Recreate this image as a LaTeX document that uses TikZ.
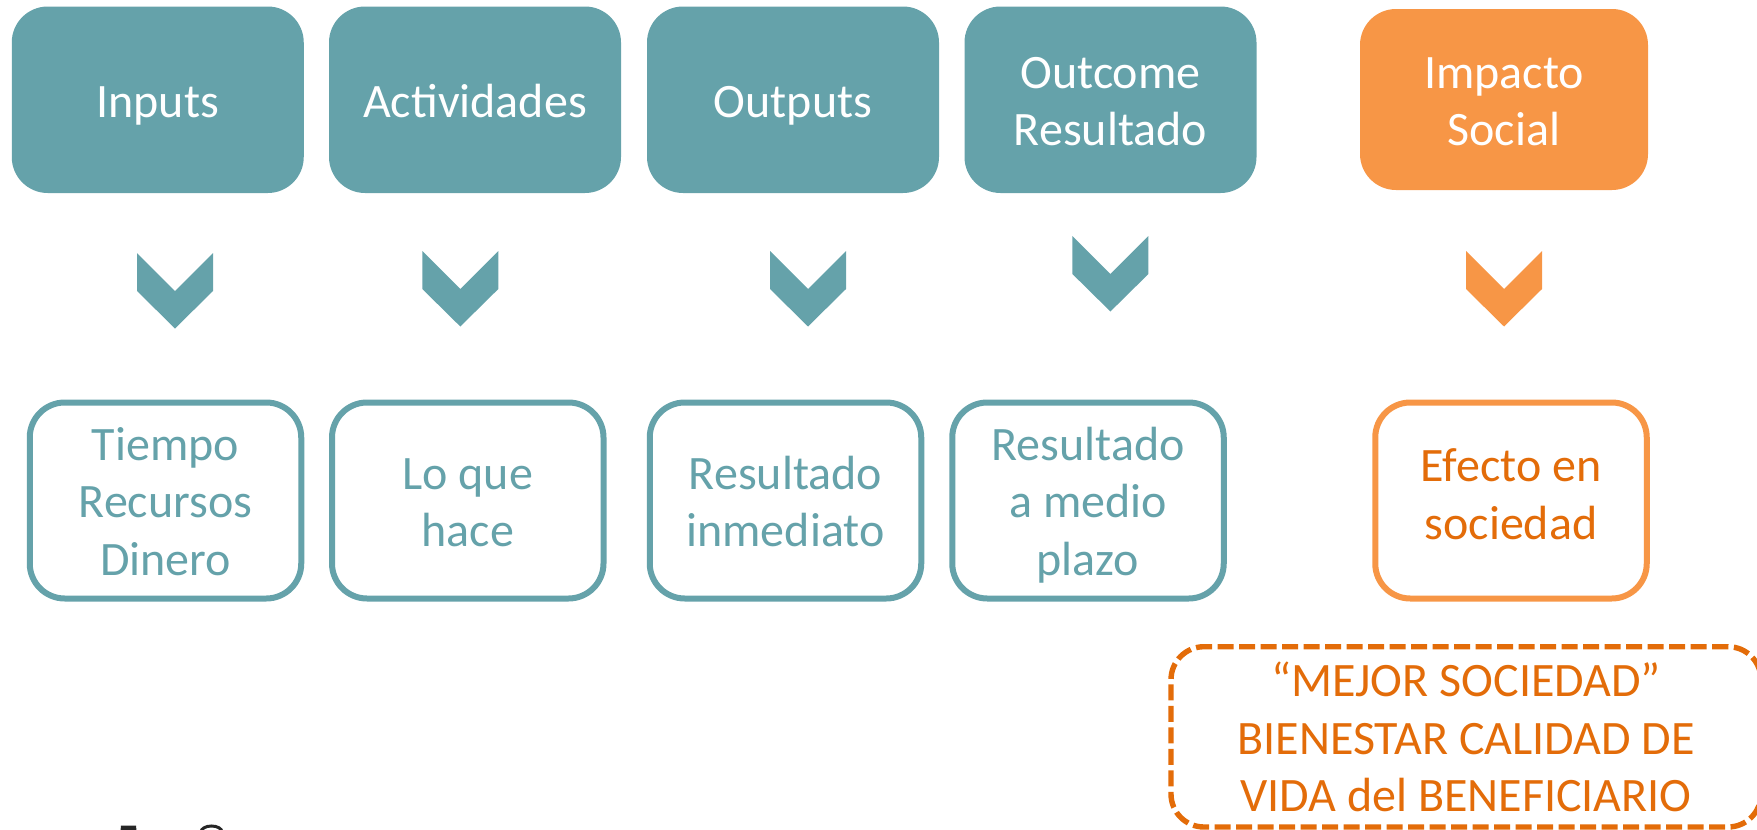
\documentclass[tikz,border=0pt]{standalone}
\usepackage{fontspec}
\setmainfont{Carlito}
\definecolor{teal0}{HTML}{65A2AA}
\definecolor{orangefill}{HTML}{F79646}
\definecolor{orangetext}{HTML}{E36C09}
\newcommand{\ls}{\vrule height23pt depth5.65pt width0pt }
\newcommand{\lsdeep}{\vrule height23pt depth12.95pt width0pt }
\newcommand{\chevmark}[3]{% centre x, top y, colour
  \fill[#3] (#1-38,#2) -- (#1,#2+38) -- (#1+38,#2) -- (#1+38,#2+38) -- (#1,#2+75.5) -- (#1-38,#2+38) -- cycle;}
\tikzset{
  labeltext/.style={font=\fontsize{24}{28.65}\selectfont, align=center, inner sep=0pt},
  solidbox/.style={labeltext, rectangle, rounded corners=18pt, text=white, minimum width=146pt, minimum height=93.25pt},
  tealbox/.style={solidbox, fill=teal0},
  orangebox/.style={solidbox, fill=orangefill, minimum width=144pt, minimum height=90.5pt},
  linebox/.style={labeltext, rectangle, rounded corners=17.5pt, line width=3pt, fill=white, minimum width=135.75pt, minimum height=98pt},
  teallinebox/.style={linebox, draw=teal0, text=teal0},
  orangelinebox/.style={linebox, draw=orangefill, text=orangetext},
  dashbox/.style={labeltext, rectangle, rounded corners=16.5pt, line width=2.7pt, draw=orangetext, text=orangetext,
    dash pattern=on 8pt off 2.75pt, minimum width=295pt, minimum height=90.15pt},
}
\begin{document}
\begin{tikzpicture}[x=0.5pt,y=-0.5pt]
\clip (0,0) rectangle (1757,830);
\useasboundingbox (0,0) rectangle (1757,830);
% top row
\node[tealbox] (inputs) at (157.75,99.75) {\ls Inputs};
\node[tealbox] (actividades) at (475,99.75) {\ls Actividades};
\node[tealbox] (outputs) at (793,99.75) {\ls Outputs};
\node[tealbox] (outcome) at (1110.5,99.75) {\ls Outcome\\\ls Resultado};
\node[orangebox] (impacto) at (1504,99.5) {\ls Impacto\\\ls Social};
% chevrons
\chevmark{175}{253}{teal0}
\chevmark{460.3}{251}{teal0}
\chevmark{808}{251}{teal0}
\chevmark{1110.4}{236}{teal0}
\chevmark{1504}{251}{orangefill}
% lower row
\node[teallinebox] (tiempo) at (165.5,500.5) {\ls Tiempo\\\ls Recursos\\\ls Dinero};
\node[teallinebox] (loque) at (467.75,500.5) {\ls Lo que\\\ls hace};
\node[teallinebox] (inmediato) at (785.5,500.5) {\ls Resultado\\\ls inmediato};
\node[teallinebox] (medio) at (1088,500.5) {\ls Resultado\\\ls a medio\\\ls plazo};
\node[orangelinebox] (efecto) at (1511,500.5) {\ls Efecto en\\\lsdeep sociedad};
% dashed box
\node[dashbox] (mejor) at (1466,736.85) {\ls “MEJOR SOCIEDAD”\\\ls BIENESTAR CALIDAD DE\\\ls VIDA del BENEFICIARIO};
% fragments at the lower edge
\fill[black!85] (121,825.5) -- (136,825.5) -- (136.5,831) -- (120.5,831) -- cycle;
\draw[black!85, line width=1.5pt] (201,832) arc[start angle=180, end angle=360, x radius=10.5, y radius=6];
\end{tikzpicture}
\end{document}
